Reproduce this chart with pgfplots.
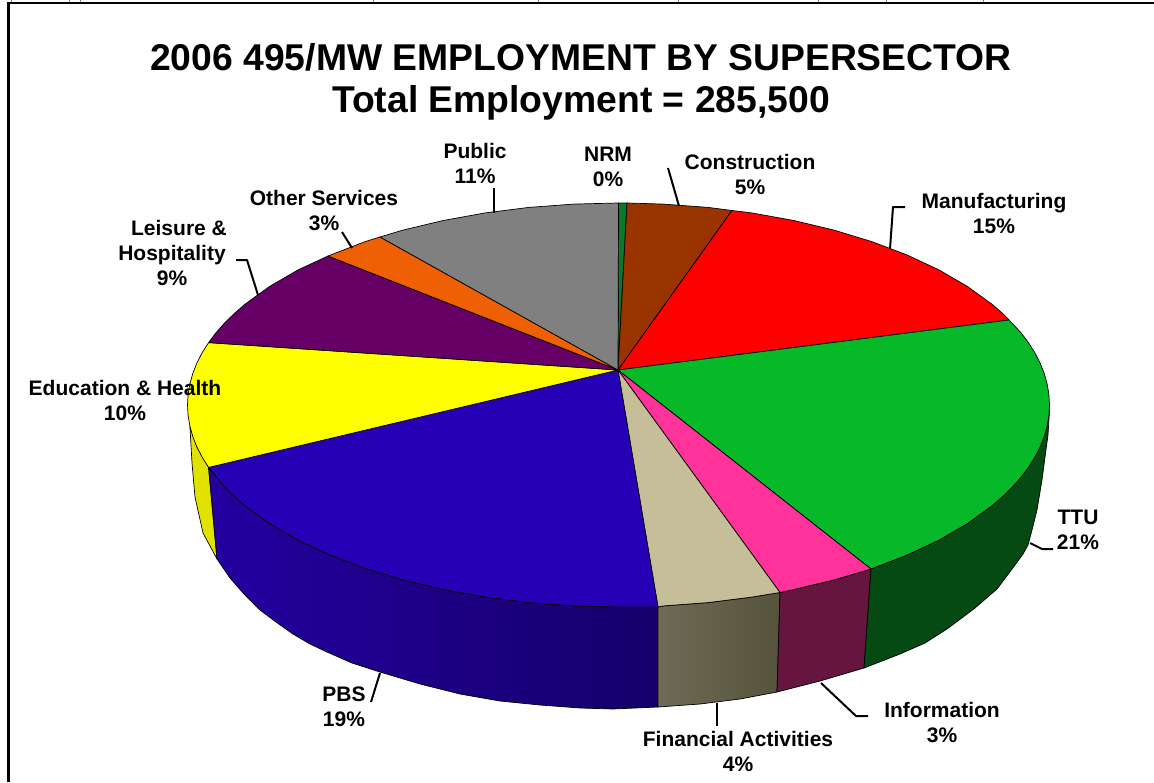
\documentclass[border=0pt]{standalone}
\usepackage{fontspec}
\setmainfont{Liberation Sans}
\usepackage{pgfplots}
\pgfplotsset{compat=1.18}
\definecolor{cNRM}{HTML}{0A7A2A}
\definecolor{cCon}{HTML}{993300}
\definecolor{cMan}{HTML}{FF0000}
\definecolor{cTTU}{HTML}{07B829}
\definecolor{cInf}{HTML}{FF3399}
\definecolor{cFin}{HTML}{C6BE98}
\definecolor{cPBS}{HTML}{2600B4}
\definecolor{cEdu}{HTML}{FFFF00}
\definecolor{cLei}{HTML}{660066}
\definecolor{cOth}{HTML}{EF5F04}
\definecolor{cPub}{HTML}{808080}
\definecolor{sTTU}{HTML}{044A12}
\definecolor{sInf}{HTML}{66163E}
\definecolor{sFinL}{HTML}{6F6B56}
\definecolor{sFinR}{HTML}{55533C}
\definecolor{sPBSL}{HTML}{2400A0}
\definecolor{sPBSR}{HTML}{14006A}
\definecolor{sEdu}{HTML}{E2E200}
\tikzset{
  sector/.style={draw=black,line width=0.7pt},
  leader/.style={draw=black,line width=2pt},
  lab/.style={font=\fontsize{21}{25}\selectfont\bfseries,align=center,inner sep=0pt,text=black},
}
\begin{document}
\begin{tikzpicture}
\path[use as bounding box] (0,0) rectangle (1154pt,782pt);
\begin{axis}[
  at={(0,0)},anchor=south west,
  scale only axis,width=1154pt,height=782pt,
  xmin=0,xmax=1154,ymin=0,ymax=782,y dir=reverse,
  hide axis,clip=false,
  every axis plot/.append style={mark=none,line join=round},
]
% frame
\addplot[ycomb,gray,line width=1pt] coordinates {(11.5,2)(69,2)(80,2)(373.5,2)(538,2)(678,2)(818,2)(886,2)(983,2)};
\addplot[black,line width=3pt] coordinates {(8.3,782)(8.3,2)};
\addplot[black,line width=2pt] coordinates {(7,2.5)(1154,2.5)};
% side walls
\addplot[sector,fill=sEdu] coordinates {(189.9,426.1)(192,463)(195,497)(203,533)(217,559)(208.6,467.4)(196.9,447)} -- cycle;
\addplot[sector,left color=sPBSL,right color=sPBSR] coordinates {
 (208.6,467.4)(224.8,487.2)(245.3,506)(269.8,523.7)(298.2,540.2)(330.1,555.1)(365.2,568.4)(403,579.9)(443.2,589.5)(485.3,597.1)(528.9,602.6)(573.5,605.9)(618.5,607)(658,607)
 (658,707)(613,709)(580,708)(540,705)(500,701)(460,694)(420,684)(380,672)(352,663)(327,652)(310,644)(293,634)(276,622)(260,610)(244,594)(230,578)(217,559)} -- cycle;
\addplot[sector,left color=sFinL,right color=sFinR] coordinates {
 (658,607)(663.5,605.9)(708.1,602.6)(751.7,597.1)(780,592.5)(777,692)(740,699)(700,704)(658,707)} -- cycle;
\addplot[sector,fill=sInf] coordinates {
 (780,592.5)(793.8,589.5)(834,579.9)(871,569)(864,668)(820,681)(777,692)} -- cycle;
\addplot[sector,fill=sTTU] coordinates {
 (871,569)(906.9,555.1)(938.8,540.2)(967.2,523.7)(991.7,506)(1012.2,487.2)(1028.4,467.4)(1040.1,447)(1047.1,426.1)(1049.5,410)
 (1048,435)(1045,457)(1042,480)(1037,510)(1032,530)(1028,545)(1023,554)(1015,565)(997,589)(975,608)(947,629)(925,643)(900,654)(864,668)} -- cycle;
% top face
\addplot[sector,fill=cNRM] coordinates {(618,370)(618.5,203)(627,203)} -- cycle;
\addplot[sector,fill=cCon] coordinates {(618,370)(627,203)(663.5,204.1)(708.1,207.4)(732,210.5)} -- cycle;
\addplot[sector,fill=cMan] coordinates {(618,370)(732,210.5)(751.7,212.9)(793.8,220.5)(834,230.1)(871.8,241.6)(906.9,254.9)(938.8,269.8)(967.2,286.3)(991.7,304)(1002.5,313.3)(1009,320)} -- cycle;
\addplot[sector,fill=cTTU] coordinates {(618,370)(1009,320)(1020.9,332.6)(1028.4,342.6)(1034.8,352.7)(1040.1,363)(1044.2,373.4)(1047.1,383.9)(1048.9,394.4)(1049.5,405)(1048.9,415.6)(1047.1,426.1)(1044.2,436.6)(1040.1,447)(1034.8,457.3)(1028.4,467.4)(1020.9,477.4)(1012.2,487.2)(1002.5,496.7)(991.7,506)(967.2,523.7)(938.8,540.2)(906.9,555.1)(871,569)} -- cycle;
\addplot[sector,fill=cInf] coordinates {(618,370)(871,569)(834,579.9)(793.8,589.5)(780,592.5)} -- cycle;
\addplot[sector,fill=cFin] coordinates {(618,370)(780,592.5)(751.7,597.1)(708.1,602.6)(663.5,605.9)(658,607)} -- cycle;
\addplot[sector,fill=cPBS] coordinates {(618,370)(658,607)(618.5,607)(573.5,605.9)(528.9,602.6)(485.3,597.1)(443.2,589.5)(403,579.9)(365.2,568.4)(330.1,555.1)(298.2,540.2)(269.8,523.7)(245.3,506)(234.5,496.7)(224.8,487.2)(208.6,467.4)} -- cycle;
\addplot[sector,fill=cEdu] coordinates {(618,370)(208.6,467.4)(202.2,457.3)(196.9,447)(192.8,436.6)(189.9,426.1)(188.1,415.6)(187.5,405)(188.1,394.4)(189.9,383.9)(192.8,373.4)(196.9,363)(202.2,352.7)(208.6,342.6)} -- cycle;
\addplot[sector,fill=cLei] coordinates {(618,370)(208.6,342.6)(216.1,332.6)(224.8,322.8)(234.5,313.3)(245.3,304)(269.8,286.3)(298.2,269.8)(328,256)} -- cycle;
\addplot[sector,fill=cOth] coordinates {(618,370)(328,256)(365.2,241.6)(380,237)} -- cycle;
\addplot[sector,fill=cPub] coordinates {(618,370)(380,237)(403,230.1)(443.2,220.5)(485.3,212.9)(528.9,207.4)(573.5,204.1)(618.5,203)} -- cycle;
% leader lines
\addplot[leader] coordinates {(494,188)(494,213)};
\addplot[leader] coordinates {(668,168)(679,206)};
\addplot[leader] coordinates {(905,207)(893,207)(890,249)};
\addplot[leader] coordinates {(1030,543)(1042,549)(1053,549)};
\addplot[leader] coordinates {(821,683)(856,716)(868,716)};
\addplot[leader] coordinates {(717,703)(717,726)};
\addplot[leader] coordinates {(380,673)(371,702)};
\addplot[leader] coordinates {(258,295)(247,260)(236,260)};
\addplot[leader] coordinates {(352,248)(342,232)};
% text
\node[font=\fontsize{37.3}{42}\selectfont\bfseries,align=center,inner sep=0pt] at (axis cs:581,82) {2006 495/MW EMPLOYMENT BY SUPERSECTOR\\Total Employment = 285,500};
\node[lab] at (axis cs:475,163) {Public\\11\%};
\node[lab] at (axis cs:608,167) {NRM\\0\%};
\node[lab] at (axis cs:750,174) {Construction\\5\%};
\node[lab] at (axis cs:994,213) {Manufacturing\\15\%};
\node[lab] at (axis cs:1078,530) {TTU\\21\%};
\node[lab] at (axis cs:942,722) {Information\\3\%};
\node[lab] at (axis cs:738,751) {Financial Activities\\4\%};
\node[lab] at (axis cs:344,707) {PBS\\19\%};
\node[lab] at (axis cs:125,400) {Education \& Health\\10\%};
\node[lab] at (axis cs:172,253) {\hspace*{14pt}Leisure \&\\Hospitality\\9\%};
\node[lab] at (axis cs:324,211) {Other Services\\3\%};
\end{axis}
\end{tikzpicture}
\end{document}
